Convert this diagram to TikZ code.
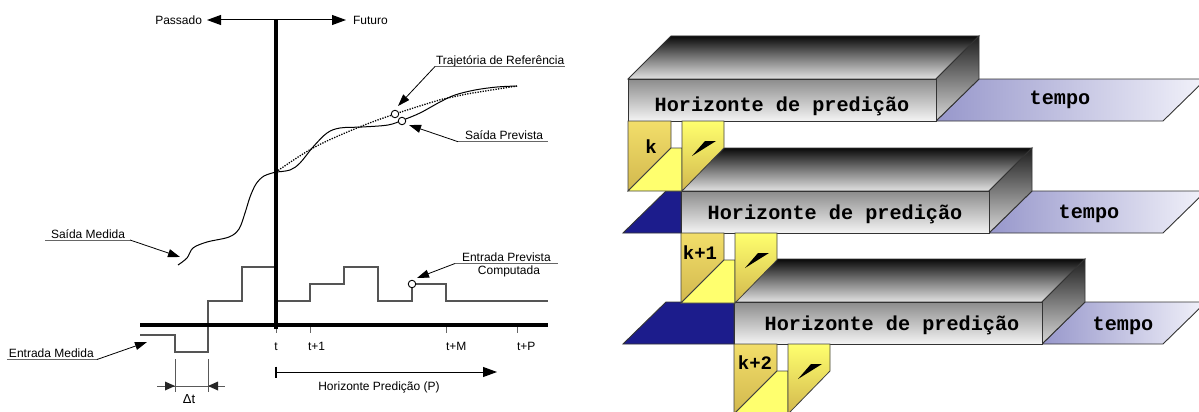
\documentclass[tikz,border=0pt]{standalone}
\usepackage{fontspec}
\setmainfont{Liberation Sans}
\newfontfamily\boxfont{Liberation Mono}
\usetikzlibrary{arrows.meta,calc}
\definecolor{frontTop}{HTML}{8C8C8C}
\definecolor{frontBot}{HTML}{F4F4F4}
\definecolor{roofBack}{HTML}{0A0A0A}
\definecolor{roofMid}{HTML}{7A7A7A}
\definecolor{roofFront}{HTML}{E2E2E2}
\definecolor{sideTop}{HTML}{1E1E1E}
\definecolor{sideBot}{HTML}{D8D8D8}
\definecolor{timeL}{HTML}{9797CB}
\definecolor{timeR}{HTML}{F2F2FA}
\definecolor{pastBlue}{HTML}{1C1C8C}
\definecolor{yelLight}{HTML}{FFFF6E}
\definecolor{yelDark}{HTML}{D2B84E}
\definecolor{yelPanel}{HTML}{F2DE6A}
\definecolor{sigGray}{HTML}{555555}
\begin{document}
\begin{tikzpicture}[x=1pt,y=-1pt,
  lbl/.style={font=\fontsize{12}{14}\selectfont, inner sep=0pt, outer sep=0pt},
  leader/.style={line width=0.8pt, -{Triangle[length=12pt,width=8pt]}},
  uline/.style={line width=0.9pt, draw=black!60},
  axisline/.style={line width=3.5pt},
  sig/.style={line width=1.4pt, draw=sigGray},
  tickline/.style={line width=1pt, draw=black!60},
  dimline/.style={line width=1pt, draw=black!65},
  openpt/.style={circle, draw, line width=0.9pt, fill=white, minimum size=7.5pt, inner sep=0pt},
  bigarrow/.style={line width=1pt, -{Triangle[length=14pt,width=10pt]}},
  facebox/.style={draw=black!80, line width=0.9pt},
  boxtext/.style={font=\boxfont\bfseries\fontsize{20.2}{24}\selectfont, inner sep=0pt},
  labtext/.style={font=\boxfont\bfseries\fontsize{19}{22}\selectfont, inner sep=0pt},
  ]
\useasboundingbox (0,0) rectangle (1199,412);

% ---------------- left: predictive control timeline ----------------
% past / future arrow
\coordinate (now) at (276,20);
\coordinate (pastTip) at (207,20);
\coordinate (futTip) at (346,20);
\node[lbl, anchor=base east] (past) at (202,24.5) {Passado};
\node[lbl, anchor=base west] (fut) at (353,24.5) {Futuro};
\draw[bigarrow] (now) -- (pastTip);
\draw[bigarrow] (now) -- (futTip);

% input signal (measured and predicted)
\draw[sig] (140,335) -- (175,335) -- (175,352) -- (208,352) -- (208,301)
  -- (242,301) -- (242,267) -- (276,267) -- (276,301) -- (310,301)
  -- (310,284) -- (344,284) -- (344,267) -- (378,267) -- (378,301)
  -- (412,301) -- (412,284) -- (446,284) -- (446,301) -- (548,301);

% ticks
\foreach \x in {276,310,446,517} \draw[tickline] (\x,325) -- (\x,333);

% axes
\draw[axisline] (276,20) -- (276,329);
\draw[axisline] (140,325) -- (548,325);

% tick labels
\node[lbl, anchor=base] (lt) at (276,350) {t};
\node[lbl, anchor=base west] (lt1) at (308,350) {t+1};
\node[lbl, anchor=base west] (ltM) at (446,350) {t+M};
\node[lbl, anchor=base west] (ltP) at (517,350) {t+P};

% measured output
\draw[line width=1pt] plot[smooth, tension=0.55] coordinates {(178,265) (187,258) (193,248) (207,242) (229,237) (239,229) (245,213) (250,197) (256,184) (264,176) (276,172)};
% predicted output
\draw[line width=1pt] plot[smooth, tension=0.55] coordinates {(276,172) (290,170) (300,163) (313,147) (327,133) (340,128) (362,127) (388,125) (403,120) (420,113) (440,102) (455,95) (475,90) (497,87) (517,86)};
% reference trajectory
\draw[line width=1.3pt, dash pattern=on 1.3pt off 1.3pt] plot[smooth, tension=0.6] coordinates {(276,172) (313,148) (357,128) (395,114) (443,99) (467,94) (517,86)};

% marked points
\node[openpt] (refPt) at (395,114) {};
\node[openpt] (outPt) at (402,121) {};
\node[openpt] (inPt) at (412,284) {};

% labels with leaders
\node[lbl, anchor=base west] (trajLbl) at (436,64) {Trajetória de Referência};
\coordinate (trajU1) at (435,66.5);
\coordinate (trajU2) at (565,66.5);
\coordinate (trajTip) at (398,106);
\draw[uline] (trajU1) -- (trajU2);
\draw[leader] (trajU1) -- (trajTip);

\node[lbl, anchor=base west] (outLbl) at (465,139.5) {Saída Prevista};
\coordinate (outU1) at (458,141.7);
\coordinate (outU2) at (548,141.7);
\coordinate (outTip) at (409,125);
\draw[uline] (outU1) -- (outU2);
\draw[leader] (outU1) -- (outTip);

\node[lbl, anchor=base west] (measLbl) at (51,238) {Saída Medida};
\coordinate (measU1) at (45,240);
\coordinate (measU2) at (130,240);
\coordinate (measTip) at (180,257);
\draw[uline] (measU1) -- (measU2);
\draw[leader] (measU2) -- (measTip);

\node[lbl, anchor=base west] (inLbl) at (9,357.5) {Entrada Medida};
\coordinate (inU1) at (7,359.5);
\coordinate (inU2) at (97,359.5);
\coordinate (inTip) at (147,342);
\draw[uline] (inU1) -- (inU2);
\draw[leader] (inU2) -- (inTip);

\node[lbl, anchor=base west] (predLbl) at (462,261.5) {Entrada Prevista};
\node[lbl, anchor=base] (predLbl2) at (509,274) {Computada};
\coordinate (predU1) at (455,263.5);
\coordinate (predU2) at (558,263.5);
\coordinate (predTip) at (417,278);
\draw[uline] (predU1) -- (predU2);
\draw[leader] (predU1) -- (predTip);

% sampling interval
\coordinate (dtA) at (175,386);
\coordinate (dtB) at (208,386);
\coordinate (dtL) at (157,386);
\coordinate (dtR) at (225,386);
\draw[dimline] (175,359) -- (175,392);
\draw[dimline] (208,359) -- (208,392);
\draw[dimline] (dtL) -- (dtR);
\fill[black!85] (dtA) -- ++(-10,-4.5) -- ++(0,9) -- cycle;
\fill[black!85] (dtB) -- ++(10,-4.5) -- ++(0,9) -- cycle;
\node[lbl, anchor=base, font=\fontsize{13}{15}\selectfont] (dtLbl) at (189,403) {Δt};

% prediction horizon
\coordinate (phA) at (276,372);
\coordinate (phB) at (497,372);
\draw[line width=1.5pt] (276,366.5) -- (276,377.5);
\draw[bigarrow] (phA) -- (phB);
\node[lbl, anchor=base] (phLbl) at (379,390) {Horizonte Predição (P)};

% ---------------- right: receding horizon blocks ----------------
\begin{scope}
\clip (0,0) rectangle (1199,412);
\foreach \n/\L/\T/\hx/\hb/\tx/\tb/\lab/\lx/\ly in
  {3/734/302/892/330/1123/330/k+2/755/363,
   2/681/191/835/219/1089/218/k+1/700/253,
   1/628/79/782/111/1060/104/k/651/147}{
  \pgfmathsetmacro\B{\T+42}
  % time strip
  \path[left color=timeL, right color=timeR, facebox]
    (\L+308,\B) -- (\L+351,\T) -- (1206,\T) -- (1163,\B) -- cycle;
  \ifnum\n>1
    \path[fill=pastBlue, facebox] (623,\B) -- (666,\T) -- (\L,\T) -- (\L,\B) -- cycle;
  \fi
  % horizon box
  \path[top color=roofBack, bottom color=roofFront, middle color=roofMid, facebox]
    (\L,\T) -- (\L+43,\T-43) -- (\L+351,\T-43) -- (\L+308,\T) -- cycle;
  \path[top color=sideTop, bottom color=sideBot, facebox]
    (\L+308,\T) -- (\L+351,\T-43) -- (\L+351,\T) -- (\L+308,\B) -- cycle;
  \path[top color=frontTop, bottom color=frontBot, facebox]
    (\L,\T) rectangle (\L+308,\B);
  \node[boxtext, anchor=base] (hz\n) at (\hx,\hb) {Horizonte de predição};
  \node[boxtext, anchor=base] (tp\n) at (\tx,\tb) {tempo};
  % current sample block
  \path[top color=yelPanel, bottom color=yelDark, draw=black!75, line width=0.8pt]
    (\L,\B) -- (\L+43,\B) -- (\L+43,\B+27) -- (\L,\B+70) -- cycle;
  \path[fill=yelLight, draw=black!75, line width=0.8pt]
    (\L,\B+70) -- (\L+43,\B+27) -- (\L+54,\B+27) -- (\L+54,\B+70) -- cycle;
  \path[top color=yelLight, bottom color=yelDark, draw=black!75, line width=0.8pt]
    (\L+54,\B) -- (\L+96,\B) -- (\L+96,\B+27) -- (\L+54,\B+70) -- cycle;
  \fill (\L+64,\B+35) -- (\L+77,\B+20) -- (\L+88,\B+20) -- cycle;
  \node[labtext] (lab\n) at (\lx,\ly) {\lab};
}
\end{scope}
\end{tikzpicture}
\end{document}
